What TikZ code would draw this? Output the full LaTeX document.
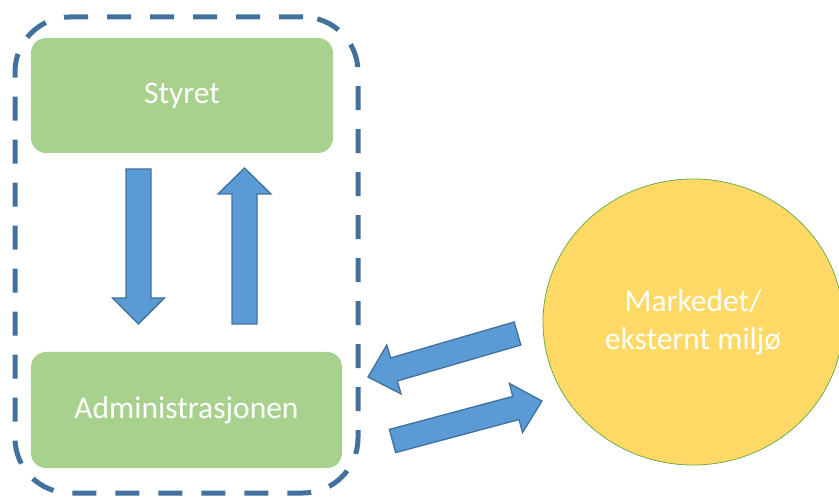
\documentclass[tikz,border=0pt]{standalone}
\usepackage{fontspec}
\setmainfont{Carlito}
\usetikzlibrary{calc,shapes.geometric}

\definecolor{boxgreen}{HTML}{A9D18E}
\definecolor{arrowfill}{HTML}{5B9BD5}
\definecolor{arrowline}{HTML}{41719C}
\definecolor{framecol}{HTML}{41719C}
\definecolor{marketfill}{HTML}{FFD966}
\definecolor{marketline}{HTML}{70AD47}

\tikzset{
  greenbox/.style={rectangle, rounded corners=15pt, fill=boxgreen, draw=none,
    text=white, font=\fontsize{31.5}{36}\selectfont},
  groupframe/.style={rectangle, rounded corners=55pt, draw=framecol,
    line width=5pt, dash pattern=on 24pt off 19pt, fill=none},
  market/.style={ellipse, fill=marketfill, draw=marketline, line width=0.8pt,
    text=white, align=center, font=\fontsize{31.5}{38}\selectfont},
  barrow/.style={fill=arrowfill, draw=arrowline, line width=1.3pt, line join=miter},
}

% block arrow from #1 to #2: shaft half width, head half width, head length
\newcommand\blockarrow[5]{%
  \coordinate (hb) at ($(#2)!#5!(#1)$);
  \draw[barrow] ($(#1)!#3!90:(#2)$) -- ($(hb)!#3!-90:(#1)$)
    -- ($(hb)!#4!-90:(#1)$) -- (#2) -- ($(hb)!#4!90:(#1)$)
    -- ($(hb)!#3!90:(#1)$) -- ($(#1)!#3!-90:(#2)$) -- cycle;
}

\begin{document}
\begin{tikzpicture}[x=1pt, y=-1pt]
  \useasboundingbox (0,0) rectangle (839,497);

  % organisation frame
  \node[groupframe, minimum width=343pt, minimum height=476pt] (grp) at (186.5,255) {};

  % boxes
  \node[greenbox, minimum width=302pt, minimum height=115pt] (styret) at (182,95.5) {\raisebox{-3pt}{Styret}};
  \node[greenbox, minimum width=311pt, minimum height=116pt] (adm) at (186.5,410) {Administrasjonen};

  % market
  \node[market, minimum width=300pt, minimum height=286pt] (mkt) at (693,322)
    {Markedet/\\eksternt miljø};

  % arrow end points
  \coordinate (d1) at (138.5,169);
  \coordinate (d2) at (138.5,324);
  \coordinate (u1) at (244.5,324);
  \coordinate (u2) at (244.5,168);
  \coordinate (l1) at (517.5,333.5);
  \coordinate (l2) at (368,377);
  \coordinate (r1) at (392.5,441);
  \coordinate (r2) at (542,401);

  \blockarrow{d1}{d2}{12.5pt}{26pt}{26pt}
  \blockarrow{u1}{u2}{12.5pt}{26.5pt}{26pt}
  \blockarrow{l1}{l2}{12pt}{25.5pt}{27pt}
  \blockarrow{r1}{r2}{12pt}{25.5pt}{27pt}
\end{tikzpicture}
\end{document}
